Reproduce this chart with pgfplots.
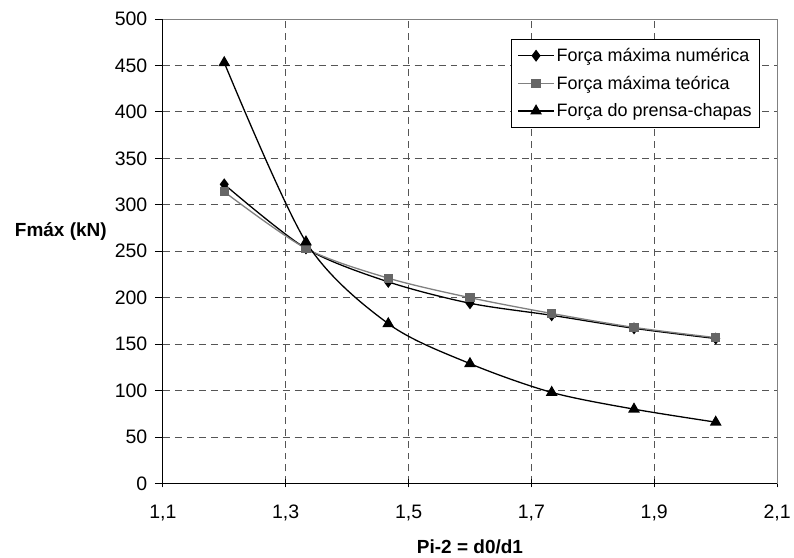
\documentclass[border=0pt]{standalone}
\usepackage{fontspec}
\setmainfont{Liberation Sans}
\usepackage{pgfplots}
\pgfplotsset{compat=1.18}
\definecolor{teogray}{HTML}{808080}
\definecolor{teomark}{HTML}{666666}
\definecolor{gridgray}{HTML}{555555}

\begin{document}
\begin{tikzpicture}
\begin{axis}[
  scale only axis,
  width=615bp, height=465bp,
  xmin=1.1, xmax=2.1,
  ymin=0, ymax=500,
  xtick={1.1,1.3,1.5,1.7,1.9,2.1},
  ytick={0,50,100,150,200,250,300,350,400,450,500},
  xticklabel style={/pgf/number format/fixed, /pgf/number format/fixed zerofill,
    /pgf/number format/precision=1, /pgf/number format/use comma, yshift=-14bp},
  /pgf/number format/assume math mode=true,
  ticklabel style={font=\fontsize{19.5bp}{22bp}\selectfont},
  yticklabel style={xshift=-4bp},
  axis line style={teogray, line width=0.8bp},
  tick style={black, line width=0.8bp},
  major tick length=8bp,
  ytick pos=left, xtick pos=bottom,
  ytick align=outside, xtick align=center,
  grid=major,
  major grid style={gridgray, line width=0.9bp, dash pattern=on 7bp off 5bp},
  xlabel={\textbf{Pi-2 = d0/d1}},
  ylabel={\textbf{Fmáx (kN)}},
  every axis x label/.style={at={(rel axis cs:0.5,0)}, anchor=center, yshift=-63bp,
    font=\fontsize{19bp}{22bp}\selectfont},
  every axis y label/.style={at={(rel axis cs:0,0.542)}, anchor=east, xshift=-56bp, inner sep=0pt,
    font=\fontsize{19bp}{22bp}\selectfont},
  legend style={at={(rel axis cs:0.972,0.957)}, anchor=north east,
    draw=black, line width=0.8bp, fill=white,
    font=\fontsize{18bp}{21bp}\selectfont,
    inner xsep=6bp, inner ysep=7bp, row sep=9bp},
  legend cell align=left,
  legend image code/.code={\draw[mark repeat=2,mark phase=2] plot coordinates {(0bp,0bp) (18bp,0bp) (36bp,0bp)};},
  clip=false,
]
% Forca maxima numerica
\addplot[black, line width=1.3bp, smooth, tension=0.5, mark=diamond*, mark size=5bp, mark options={solid, fill=black}] coordinates {
  (1.2,322) (1.333,253) (1.467,217) (1.6,194) (1.733,181) (1.867,167) (2.0,156)
};
% Forca maxima teorica
\addplot[teogray, line width=1.3bp, smooth, tension=0.5, mark=square*, mark size=4bp, mark options={solid, draw=teomark, fill=teomark}] coordinates {
  (1.2,314) (1.333,253) (1.467,221) (1.6,200) (1.733,183) (1.867,168) (2.0,157)
};
% Forca do prensa-chapas
\addplot[black, line width=1.3bp, smooth, tension=0.5, mark=triangle*, mark size=5.5bp, mark options={solid, fill=black}] coordinates {
  (1.2,453) (1.333,260) (1.467,172) (1.6,129) (1.733,98) (1.867,80) (2.0,66)
};
\legend{Força máxima numérica, Força máxima teórica, Força do prensa-chapas}
\draw[black, line width=1bp] (rel axis cs:0,1) -- (rel axis cs:0,0) -- (rel axis cs:1,0);
\coordinate (bl) at (rel axis cs:0,0);
\coordinate (tr) at (rel axis cs:1,1);
\end{axis}
\path ([shift={(-163bp,-74bp)}]bl) rectangle ([shift={(16bp,19bp)}]tr);
\end{tikzpicture}
\end{document}
